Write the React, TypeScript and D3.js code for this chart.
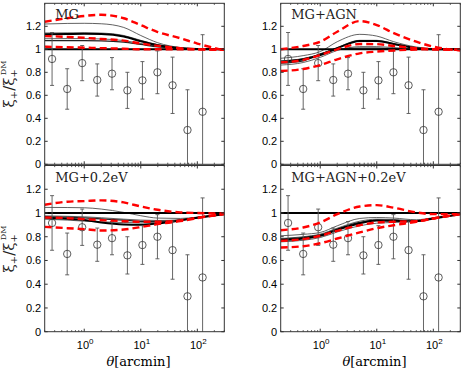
import React from 'react';
import * as d3 from 'd3';

// measured points (same in every panel)
const theta = [0.27, 0.5, 0.92, 1.7, 3.1, 5.8, 10.7, 19.7, 36.5, 67, 124];
const ratio = [0.916, 0.655, 0.88, 0.733, 0.788, 0.643, 0.73, 0.8, 0.687, 0.298, 0.457];
const ratioErr = [0.23, 0.176, 0.153, 0.14, 0.14, 0.157, 0.163, 0.186, 0.245, 0.35, 0.67];

// model curves are read at these angles
const modelTheta = [0.2, 0.5, 1, 2, 5, 10, 20, 50, 100, 300];

// MG
const mgRedHi = [1.24, 1.27, 1.29, 1.30, 1.27, 1.21, 1.15, 1.096, 1.05, 0.99];
const mgRedMid = [1.115, 1.108, 1.10, 1.09, 1.075, 1.05, 1.03, 1.01, 1.0, 0.995];
const mgRedLo = [1.023, 1.018, 1.014, 1.01, 1.005, 1.0, 1.0, 1.0, 1.0, 0.995];
const mgBlack = [1.13, 1.133, 1.135, 1.133, 1.112, 1.07, 1.035, 1.01, 1.002, 1.0];
const mgThin = [
  [1.22, 1.225, 1.226, 1.222, 1.19, 1.12, 1.057, 1.015, 1.004, 1.0],
  [1.142, 1.143, 1.144, 1.141, 1.12, 1.078, 1.04, 1.012, 1.003, 1.0],
  [1.092, 1.093, 1.093, 1.09, 1.076, 1.05, 1.026, 1.008, 1.002, 1.0],
];
const mgBlack2 = [1.075, 1.076, 1.076, 1.074, 1.062, 1.042, 1.022, 1.006, 1.001, 1.0];

// MG+AGN
const agnRedHi = [1.0, 1.029, 1.066, 1.153, 1.245, 1.211, 1.14, 1.066, 1.023, 0.99];
const agnRedMid = [0.887, 0.907, 0.95, 1.0, 1.046, 1.045, 1.029, 1.01, 1.0, 0.995];
const agnRedLo = [0.811, 0.829, 0.863, 0.913, 0.965, 0.98, 0.99, 0.998, 1.0, 0.995];
const agnBlack = [0.892, 0.913, 0.95, 1.009, 1.072, 1.072, 1.046, 1.01, 1.0, 1.0];
const agnThin = [
  [0.922, 0.945, 0.98, 1.066, 1.13, 1.115, 1.066, 1.02, 1.005, 1.0],
  [0.9, 0.92, 0.958, 1.015, 1.078, 1.078, 1.05, 1.012, 1.002, 1.0],
  [0.863, 0.885, 0.93, 0.99, 1.023, 1.023, 1.015, 1.003, 1.0, 1.0],
];
const agnBlack2 = [0.88, 0.9, 0.96, 1.0, 1.01, 1.01, 1.005, 1.0, 1.0, 1.0];

// MG+0.2eV
const nuRedHi = [1.069, 1.095, 1.10, 1.106, 1.089, 1.055, 1.027, 1.005, 1.0, 0.995];
const nuRedMid = [0.962, 0.957, 0.948, 0.94, 0.931, 0.926, 0.926, 0.937, 0.96, 0.993];
const nuRedLo = [0.883, 0.872, 0.864, 0.852, 0.861, 0.881, 0.906, 0.931, 0.957, 0.99];
const nuBlack = [0.962, 0.951, 0.94, 0.92, 0.903, 0.9, 0.912, 0.937, 0.96, 0.99];
const nuThin = [
  [1.047, 1.046, 1.044, 1.033, 1.005, 0.977, 0.957, 0.954, 0.965, 0.99],
  [0.976, 0.972, 0.968, 0.96, 0.948, 0.94, 0.937, 0.943, 0.962, 0.99],
  [0.948, 0.94, 0.931, 0.925, 0.92, 0.917, 0.923, 0.94, 0.96, 0.99],
];
const nuBlack2 = [0.97, 0.965, 0.958, 0.95, 0.94, 0.93, 0.93, 0.94, 0.96, 0.99];

// MG+AGN+0.2eV
const bothRedHi = [0.855, 0.878, 0.92, 0.99, 1.055, 1.066, 1.044, 1.005, 0.99, 0.99];
const bothRedMid = [0.765, 0.78, 0.808, 0.85, 0.897, 0.92, 0.926, 0.931, 0.954, 0.993];
const bothRedLo = [0.709, 0.72, 0.745, 0.785, 0.836, 0.872, 0.897, 0.926, 0.954, 0.99];
const bothBlack = [0.771, 0.785, 0.808, 0.858, 0.914, 0.937, 0.934, 0.931, 0.954, 0.99];
const bothThin = [
  [0.808, 0.82, 0.836, 0.892, 0.954, 0.962, 0.957, 0.943, 0.96, 0.99],
  [0.785, 0.8, 0.822, 0.872, 0.931, 0.948, 0.945, 0.935, 0.955, 0.99],
  [0.757, 0.77, 0.793, 0.84, 0.892, 0.914, 0.92, 0.931, 0.954, 0.99],
];
const bothBlack2 = [0.78, 0.795, 0.815, 0.865, 0.92, 0.94, 0.938, 0.933, 0.955, 0.99];

const yTicks = [0, 0.2, 0.4, 0.6, 0.8, 1, 1.2];
const yTickLabels = ['0', '0.2', '0.4', '0.6', '0.8', '1', '1.2'];
const xMajor = [1, 10, 100];
const xMajorExp = ['0', '1', '2'];

const panelW = 179.6;
const sans = 'Liberation Sans, Arial, sans-serif';
const serif = 'DejaVu Serif, serif';

type PanelProps = {
  id: string;
  x0: number;
  y0: number;
  y1: number;
  label: string;
  redHi: number[];
  redMid: number[];
  redLo: number[];
  black: number[];
  black2: number[];
  thin: number[][];
  xLabels: boolean;
};

function Panel(p: PanelProps) {
  const x = d3.scaleLog().domain([0.2, 300]).range([p.x0, p.x0 + panelW]);
  const y = d3.scaleLinear().domain([0, 1.4]).range([p.y1, p.y0]);
  const line = d3
    .line<number>()
    .x((d, i) => x(modelTheta[i]))
    .y(d => y(d))
    .curve(d3.curveMonotoneX);
  const minor = x.ticks().filter(t => !xMajor.includes(t));
  const [xa, xb] = x.range();
  const red = { fill: 'none', stroke: '#ff0000', strokeWidth: 2.4, strokeDasharray: '7,4' };

  return (
    <g>
      <defs>
        <clipPath id={p.id}>
          <rect x={xa} y={p.y0} width={xb - xa} height={p.y1 - p.y0} />
        </clipPath>
      </defs>
      <rect x={xa} y={p.y0} width={xb - xa} height={p.y1 - p.y0} fill="#fff" />
      <g clipPath={`url(#${p.id})`}>
        {p.thin.map((c, i) => (
          <path key={i} d={line(c) || ''} fill="none" stroke="#3a3a3a" strokeWidth={0.8} />
        ))}
        <path d={line(p.black2) || ''} fill="none" stroke="#222" strokeWidth={1.3} />
        <path d={line(p.black) || ''} fill="none" stroke="#000" strokeWidth={2} />
        <line x1={xa} x2={xb} y1={y(1)} y2={y(1)} stroke="#000" strokeWidth={2} />
        {theta.map((t, i) => {
          const cx = x(t);
          const lo = y(ratio[i] - ratioErr[i]);
          const hi = y(ratio[i] + ratioErr[i]);
          return (
            <g key={i} stroke="#555" strokeWidth={0.9}>
              <line x1={cx} x2={cx} y1={lo} y2={hi} />
              <line x1={cx - 2} x2={cx + 2} y1={lo} y2={lo} />
              <line x1={cx - 2} x2={cx + 2} y1={hi} y2={hi} />
              <circle cx={cx} cy={y(ratio[i])} r={3.7} fill="none" stroke="#333" strokeWidth={0.8} />
            </g>
          );
        })}
        <path d={line(p.redLo) || ''} {...red} />
        <path d={line(p.redMid) || ''} {...red} />
        <path d={line(p.redHi) || ''} {...red} />
      </g>
      {/* axes box and ticks */}
      <rect x={xa} y={p.y0} width={xb - xa} height={p.y1 - p.y0} fill="none" stroke="#333" strokeWidth={1} />
      {yTicks.map((t, i) => (
        <g key={i}>
          <line x1={xa} x2={xa + 3} y1={y(t)} y2={y(t)} stroke="#333" />
          <line x1={xb} x2={xb - 3} y1={y(t)} y2={y(t)} stroke="#333" />
          <text x={xa - 3.5} y={y(t) + 4} textAnchor="end" fontFamily={sans} fontSize={11} fill="#000">
            {yTickLabels[i]}
          </text>
        </g>
      ))}
      {xMajor.map(t => (
        <g key={t}>
          <line x1={x(t)} x2={x(t)} y1={p.y1} y2={p.y1 - 3} stroke="#333" />
          <line x1={x(t)} x2={x(t)} y1={p.y0} y2={p.y0 + 3} stroke="#333" />
        </g>
      ))}
      {minor.map(t => (
        <g key={t}>
          <line x1={x(t)} x2={x(t)} y1={p.y1} y2={p.y1 - 1.6} stroke="#333" strokeWidth={0.8} />
          <line x1={x(t)} x2={x(t)} y1={p.y0} y2={p.y0 + 1.6} stroke="#333" strokeWidth={0.8} />
        </g>
      ))}
      {p.xLabels &&
        xMajor.map((t, i) => (
          <text key={t} x={x(t) + 1} y={348.5} textAnchor="middle" fontFamily={sans} fontSize={11} fill="#000">
            10
            <tspan fontSize={8} dy={-5}>
              {xMajorExp[i]}
            </tspan>
          </text>
        ))}
      {p.xLabels && (
        <text x={(xa + xb) / 2 + 4} y={366} textAnchor="middle" fontFamily={serif} fontSize={13} fill="#000">
          <tspan fontStyle="italic">θ</tspan>[arcmin]
        </text>
      )}
      <text x={xa + 10.5} y={p.y0 + 16} fontFamily={serif} fontSize={13} fill="#222">
        {p.label}
      </text>
    </g>
  );
}

function YLabel({ cy }: { cy: number }) {
  return (
    <text
      transform={`translate(14,${cy}) rotate(-90)`}
      textAnchor="middle"
      fontFamily={serif}
      fontSize={15}
      fill="#222"
    >
      ξ<tspan fontSize={10} dy={3}>+</tspan>
      <tspan dy={-3}>/ξ</tspan>
      <tspan fontSize={10} dy={3}>+</tspan>
      <tspan fontSize={8} dx={-6} dy={-11}>DM</tspan>
    </text>
  );
}

export default function App() {
  const top = { y0: 3.3, y1: 164.3 };
  const bot = { y0: 165.5, y1: 331.7 };
  return (
    <svg width={464} height={372} style={{ position: 'absolute', left: 0, top: 0, background: '#fff' }}>
      <rect width={464} height={372} fill="#fff" />
      <Panel id="c1" x0={44.7} {...top} label="MG" redHi={mgRedHi} redMid={mgRedMid} redLo={mgRedLo}
        black={mgBlack} black2={mgBlack2} thin={mgThin} xLabels={false} />
      <Panel id="c2" x0={280.7} {...top} label="MG+AGN" redHi={agnRedHi} redMid={agnRedMid} redLo={agnRedLo}
        black={agnBlack} black2={agnBlack2} thin={agnThin} xLabels={false} />
      <Panel id="c3" x0={44.7} {...bot} label="MG+0.2eV" redHi={nuRedHi} redMid={nuRedMid} redLo={nuRedLo}
        black={nuBlack} black2={nuBlack2} thin={nuThin} xLabels={true} />
      <Panel id="c4" x0={280.7} {...bot} label="MG+AGN+0.2eV" redHi={bothRedHi} redMid={bothRedMid}
        redLo={bothRedLo} black={bothBlack} black2={bothBlack2} thin={bothThin} xLabels={true} />
      <YLabel cy={84} />
      <YLabel cy={249} />
    </svg>
  );
}
